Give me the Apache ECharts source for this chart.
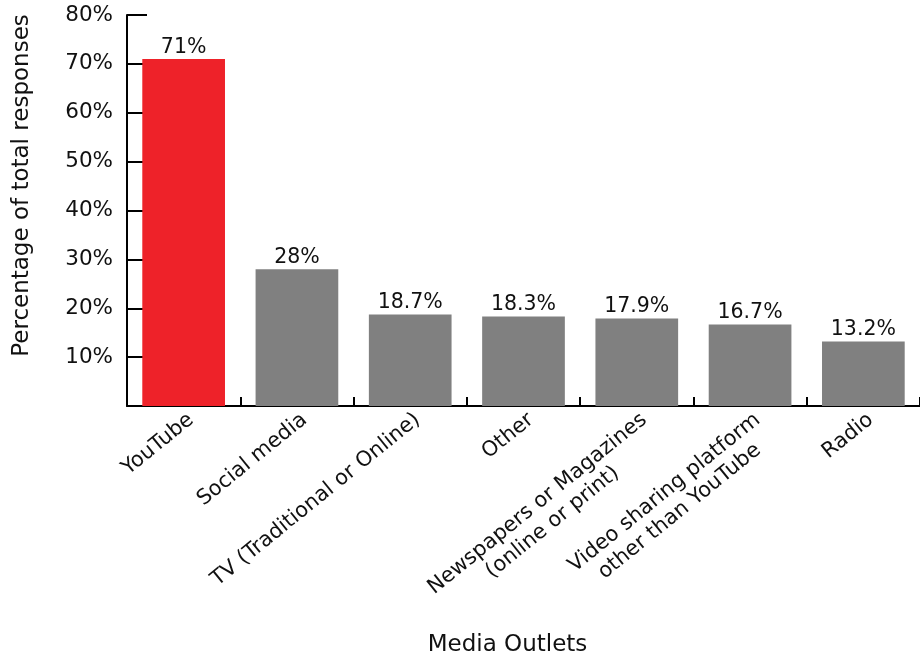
<!DOCTYPE html>
<html><head><meta charset="utf-8">
<script src="https://cdn.jsdelivr.net/npm/echarts@6/dist/echarts.min.js"></script>
<style>html,body{margin:0;padding:0;background:#fff}#c{width:920px;height:662px}</style>
</head><body><div id="c"></div>
<script>
const categories = ['YouTube', 'Social media', 'TV (Traditional or Online)', 'Other', 'Newspapers or Magazines\n(online or print)', 'Video sharing platform\nother than YouTube', 'Radio'];
const values = [71, 28, 18.7, 18.3, 17.9, 16.7, 13.2];
const valueLabels = ['71%', '28%', '18.7%', '18.3%', '17.9%', '16.7%', '13.2%'];
const barColors = ['#EE2229', '#808080', '#808080', '#808080', '#808080', '#808080', '#808080'];
const yTicks = [0, 10, 20, 30, 40, 50, 60, 70, 80];

const FONT = 'DejaVu Sans';
const chart = echarts.init(document.getElementById('c'), null, {renderer: 'canvas'});
chart.setOption({
  animation: false,
  grid: {left: 127, top: 15, right: -8, bottom: 248},
  xAxis: {
    type: 'category',
    data: categories,
    name: 'Media Outlets',
    nameLocation: 'middle',
    nameGap: 228,
    nameTextStyle: {fontFamily: FONT, fontSize: 23, color: '#111', padding: [0, 32, 0, 0]},
    axisLine: {lineStyle: {color: '#000', width: 2}},
    axisTick: {show: true, inside: true, length: 9, alignWithLabel: false, lineStyle: {color: '#000', width: 2}},
    axisLabel: {
      rotate: 39, interval: 0, margin: 2, align: 'right', verticalAlign: 'top',
      formatter: v => v.split('\n').map(l => '{c|' + l + '}').join('\n'),
      rich: {c: {align: 'center', fontFamily: FONT, fontSize: 21, color: '#111', lineHeight: 24}}
    }
  },
  yAxis: {
    type: 'value', min: yTicks[0], max: yTicks[yTicks.length - 1], interval: 10,
    name: 'Percentage of total responses',
    nameLocation: 'middle', nameGap: 93, nameRotate: 90,
    nameTextStyle: {fontFamily: FONT, fontSize: 23, color: '#111', padding: [0, 0, 0, 50]},
    axisLine: {show: true, lineStyle: {color: '#000', width: 2}},
    axisTick: {show: true, inside: true, length: 20, lineStyle: {color: '#000', width: 2}},
    splitLine: {show: false},
    axisLabel: {
      margin: 14, fontFamily: FONT, fontSize: 21.5, color: '#111',
      formatter: v => v === 0 ? '' : v + '%'
    }
  },
  series: [{
    type: 'bar',
    barWidth: '73%',
    data: values.map((v, i) => ({value: v, itemStyle: {color: barColors[i]}})),
    label: {
      show: true, position: 'top', distance: 1,
      fontFamily: FONT, fontSize: 20.5, color: '#111',
      formatter: p => valueLabels[p.dataIndex]
    }
  }]
});
</script></body></html>
